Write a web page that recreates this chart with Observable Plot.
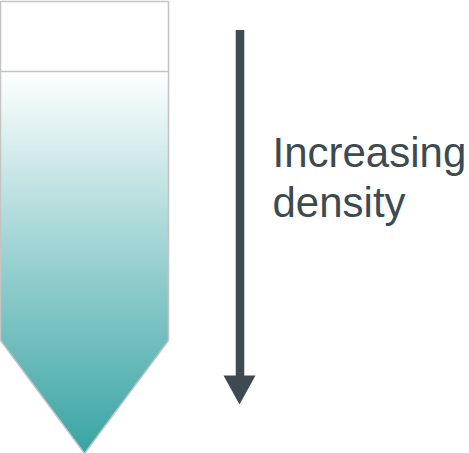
<!DOCTYPE html>
<html>
<head>
<meta charset="utf-8">
<script src="https://cdn.jsdelivr.net/npm/d3@7"></script>
<script src="https://cdn.jsdelivr.net/npm/@observablehq/plot@0.6"></script>
<style>
  html, body { margin: 0; padding: 0; background: #fff; }
  #chart svg { display: block; }
</style>
</head>
<body>
<div id="chart"></div>
<script>
// Diagram geometry (in diagram units)
const tubeX = [0, 168, 168, 84, 0, 0];
const tubeY = [1, 1, 340, 453, 340, 1];
const dividerY = [71];
const tubeLeft = 0, tubeRight = 168;
const arrowShaftX = [239.5];
const arrowShaftY = [30, 378];
const arrowHeadX = [223, 255, 239];
const arrowHeadY = [375, 375, 404];
const labelLines = ["Increasing", "density"];
const labelX = 272;
const labelBaselines = [166, 216];
const gradientStops = [
  { offset: 0, color: "#ffffff" },
  { offset: 0.5, color: "#98d0d0" },
  { offset: 1, color: "#39a4a4" }
];

const tube = tubeX.map((x, i) => ({ x, y: tubeY[i] }));
const head = arrowHeadX.map((x, i) => ({ x, y: arrowHeadY[i] }));
const labels = labelLines.map((t, i) => ({ t, x: labelX, y: labelBaselines[i] }));

const defs = () => {
  const ns = "http://www.w3.org/2000/svg";
  const d = document.createElementNS(ns, "defs");
  const g = document.createElementNS(ns, "linearGradient");
  g.setAttribute("id", "tubeGrad");
  g.setAttribute("gradientUnits", "userSpaceOnUse");
  g.setAttribute("x1", "0"); g.setAttribute("x2", "0");
  g.setAttribute("y1", "71"); g.setAttribute("y2", "453");
  for (const s of gradientStops) {
    const st = document.createElementNS(ns, "stop");
    st.setAttribute("offset", s.offset);
    st.setAttribute("stop-color", s.color);
    g.appendChild(st);
  }
  d.appendChild(g);
  return d;
};

const chart = Plot.plot({
  width: 469,
  height: 453,
  margin: 0,
  x: { domain: [0, 469], axis: null },
  y: { domain: [0, 453], reverse: true, axis: null },
  style: { fontFamily: "'Liberation Sans', Arial, sans-serif", background: "#fff" },
  marks: [
    defs,
    Plot.line(tube, { x: "x", y: "y", fill: "url(#tubeGrad)", stroke: "#c4c4c4", strokeWidth: 1.5, strokeLinejoin: "miter" }),
    Plot.ruleY(dividerY, { x1: tubeLeft, x2: tubeRight, stroke: "#c4c4c4", strokeWidth: 1.5 }),
    Plot.ruleX(arrowShaftX, { y1: arrowShaftY[0], y2: arrowShaftY[1], stroke: "#3d4a4f", strokeWidth: 8.5 }),
    Plot.line(head, { x: "x", y: "y", fill: "#3d4a4f", stroke: "none" }),
    Plot.text(labels, { x: "x", y: "y", text: "t", textAnchor: "start", lineAnchor: "bottom", fontSize: 42, fill: "#3d4a4f" })
  ]
});
document.getElementById("chart").appendChild(chart);
</script>
</body>
</html>
